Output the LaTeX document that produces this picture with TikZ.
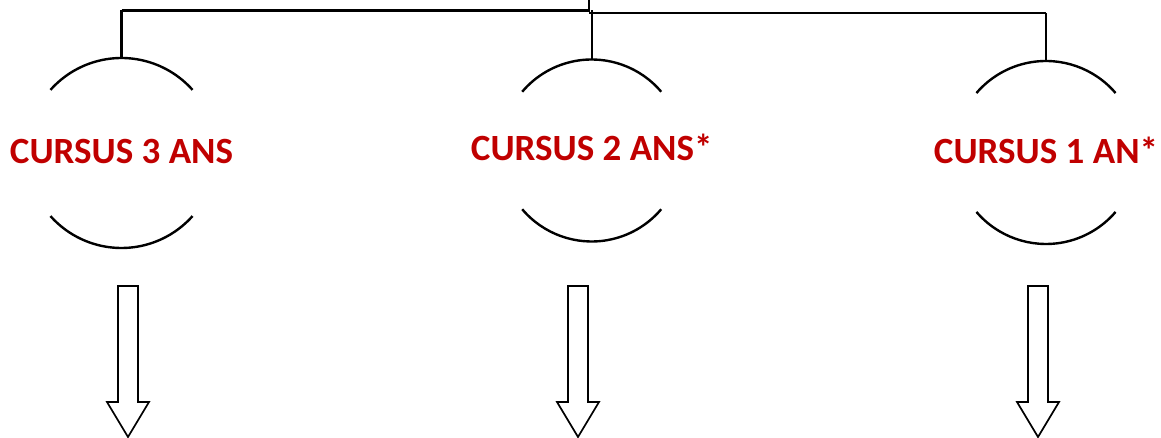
\documentclass[tikz,border=0pt]{standalone}
\usepackage{fontspec}
\setmainfont{Carlito}
\usetikzlibrary{calc}
\definecolor{cred}{HTML}{C00000}
\tikzset{
  lbl/.style={font=\fontsize{37}{40}\selectfont\bfseries, text=cred, inner sep=0pt, anchor=base},
  conn/.style={line width=2.3pt},
  arcline/.style={line width=2.4pt},
  bigarrow/.style={line width=1.7pt, line join=miter},
}
\begin{document}
\begin{tikzpicture}[x=1pt,y=1pt]
\useasboundingbox (0,0) rectangle (1161,438);
% circle centres
\coordinate (o1) at (121.5,285);
\coordinate (o2) at (591.7,287.5);
\coordinate (o3) at (1046,285.5);
% labels
\node[lbl] (c1) at (121.5,274) {CURSUS 3 ANS};
\node[lbl] (c2) at (591.7,277) {CURSUS 2 ANS*};
\node[lbl] (c3) at (1046,274) {CURSUS 1 AN*};
% arcs
\draw[arcline] ([shift={(41.6:95)}]o1) arc (41.6:138.4:95);
\draw[arcline] ([shift={(221.6:95)}]o1) arc (221.6:318.4:95);
\draw[arcline] ([shift={(40.2:91)}]o2) arc (40.2:139.8:91);
\draw[arcline] ([shift={(220.2:91)}]o2) arc (220.2:319.8:91);
\draw[arcline] ([shift={(40.5:91.5)}]o3) arc (40.5:139.5:91.5);
\draw[arcline] ([shift={(220.5:91.5)}]o3) arc (220.5:319.5:91.5);
% arc tops
\coordinate (t1) at (121.5,380);
\coordinate (t2) at (591.7,378.5);
\coordinate (t3) at (1046,377);
% connector tree
\coordinate (root) at (589,438);
\coordinate (j) at (589,427.5);
\coordinate (h1) at (121.5,427.5);
\coordinate (h2) at (591.7,425);
\coordinate (h3) at (1046,425);
\draw[conn] (root) -- (j);
\draw[conn] (h1) -- (590,427.5);
\draw[conn] (589,425) -- (h3);
\draw[conn] (h1) -- (t1);
\draw[conn] (591.7,427.5) -- (t2);
\draw[conn] (h3) -- (t3);
% block arrows
\foreach \n/\x in {1/128,2/578,3/1038}{
  \coordinate (a\n) at (\x,152);
  \coordinate (p\n) at (\x,1);
  \draw[bigarrow] ($(a\n)+(-10,0)$) -- ($(a\n)+(10,0)$) -- ($(a\n)+(10,-116)$) -- ($(a\n)+(21,-116)$) -- (p\n) -- ($(a\n)+(-21,-116)$) -- ($(a\n)+(-10,-116)$) -- cycle;
}
\end{tikzpicture}
\end{document}
